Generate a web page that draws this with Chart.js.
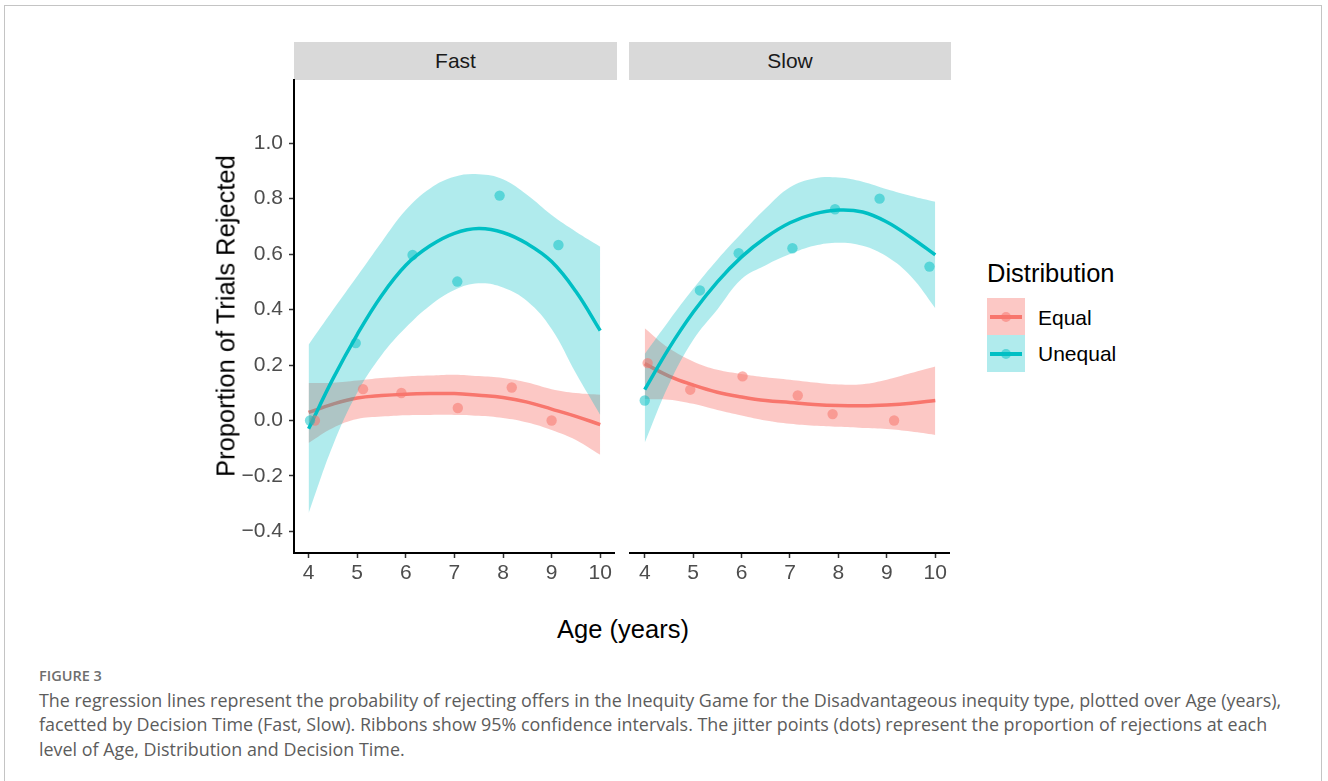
<!DOCTYPE html>
<html>
<head>
<meta charset="utf-8">
<script src="https://cdn.jsdelivr.net/npm/chart.js@4.4.1/dist/chart.umd.min.js"></script>
<style>
  html, body { margin:0; padding:0; background:#fff; }
  body { width:1328px; height:781px; position:relative; overflow:hidden; font-family:"Liberation Sans", Arial, sans-serif; }
  .frame { position:absolute; left:4px; top:5px; width:1318px; height:800px; border:1px solid #c4c4c4; box-sizing:border-box; }
  canvas { position:absolute; }
  .strip { position:absolute; top:42px; height:38px; background:#d9d9d9; color:#1a1a1a; font-size:21px; display:flex; align-items:center; justify-content:center; }
  .ytitle { position:absolute; left:226px; top:316px; transform:translate(-50%,-50%) rotate(-90deg); font-size:25.5px; color:#000; white-space:nowrap; }
  .xtitle { position:absolute; left:623px; top:629px; transform:translate(-50%,-50%); font-size:25.5px; color:#000; white-space:nowrap; }
  .legtitle { position:absolute; left:987px; top:273px; transform:translateY(-50%); font-size:25.5px; color:#000; white-space:nowrap; }
  .key { position:absolute; left:987px; width:38px; height:37px; }
  .key .ln { position:absolute; left:3px; right:3px; top:17px; height:3.5px; }
  .key .dt { position:absolute; left:14px; top:13.5px; width:10px; height:10px; border-radius:50%; }
  .leglab { position:absolute; left:1038px; transform:translateY(-50%); font-size:21px; color:#000; white-space:nowrap; }
  .figlab { position:absolute; left:39px; top:675px; transform:translateY(-50%); font-family:"Open Sans", sans-serif; font-weight:600; font-size:14.5px; color:#6e6e6e; }
  .cap { position:absolute; left:39px; top:688px; font-family:"Open Sans", sans-serif; font-size:17.9px; line-height:24.3px; color:#5c5c5c; white-space:nowrap; }
</style>
</head>
<body>
<div class="frame"></div>
<div class="strip" style="left:294px;width:323px;">Fast</div>
<div class="strip" style="left:629px;width:322px;">Slow</div>
<canvas id="c1" width="430" height="540" style="left:190px;top:70px;"></canvas>
<canvas id="c2" width="330" height="540" style="left:625px;top:70px;"></canvas>
<div class="ytitle">Proportion of Trials Rejected</div>
<div class="xtitle">Age (years)</div>
<div class="legtitle">Distribution</div>
<div class="key" id="k1" style="top:298px;"><div class="ln"></div><div class="dt"></div></div>
<div class="key" id="k2" style="top:335px;"><div class="ln"></div><div class="dt"></div></div>
<div class="leglab" style="top:318px;">Equal</div>
<div class="leglab" style="top:354px;">Unequal</div>
<div class="figlab">FIGURE 3</div>
<div class="cap">The regression lines represent the probability of rejecting offers in the Inequity Game for the Disadvantageous inequity type, plotted over Age (years),<br>facetted by Decision Time (Fast, Slow). Ribbons show 95% confidence intervals. The jitter points (dots) represent the proportion of rejections at each<br>level of Age, Distribution and Decision Time.</div>
<script>
// ---- data ----
const ageGrid = [4, 4.5, 5, 5.5, 6, 6.5, 7, 7.5, 8, 8.5, 9, 9.5, 10];
const xTickValues = [4, 5, 6, 7, 8, 9, 10];
const xTickLabels = ['4', '5', '6', '7', '8', '9', '10'];
const yTickValues = [-0.4, -0.2, 0, 0.2, 0.4, 0.6, 0.8, 1.0];
const yTickLabels = ['\u22120.4', '\u22120.2', '0.0', '0.2', '0.4', '0.6', '0.8', '1.0'];
const seriesNames = ['Equal', 'Unequal'];

// Fast panel — fitted curves and 95% CI
const fastEqualFit   = [0.029, 0.059, 0.081, 0.090, 0.095, 0.097, 0.097, 0.091, 0.083, 0.066, 0.041, 0.015, -0.015];
const fastEqualUpper = [0.135, 0.136, 0.144, 0.153, 0.159, 0.162, 0.165, 0.160, 0.153, 0.137, 0.113, 0.099, 0.093];
const fastEqualLower = [-0.081, -0.027, 0.005, 0.014, 0.019, 0.020, 0.020, 0.017, 0.009, -0.007, -0.034, -0.070, -0.124];
const fastUnequalFit   = [-0.030, 0.150, 0.310, 0.450, 0.560, 0.630, 0.675, 0.692, 0.678, 0.637, 0.573, 0.465, 0.324];
const fastUnequalUpper = [0.273, 0.398, 0.520, 0.643, 0.759, 0.837, 0.879, 0.888, 0.870, 0.813, 0.741, 0.681, 0.627];
const fastUnequalLower = [-0.335, -0.090, 0.100, 0.235, 0.335, 0.415, 0.471, 0.495, 0.480, 0.430, 0.330, 0.170, 0.020];
// Fast panel — jittered observed proportions
const fastEqualAge  = [4.13, 5.12, 5.91, 7.07, 8.18, 9.00];
const fastEqualProp = [0.000, 0.113, 0.099, 0.045, 0.119, 0.000];
const fastUnequalAge  = [4.03, 4.97, 6.14, 7.06, 7.93, 9.14];
const fastUnequalProp = [0.000, 0.279, 0.597, 0.501, 0.811, 0.633];

// Slow panel — fitted curves and 95% CI
const slowEqualFit   = [0.205, 0.160, 0.128, 0.102, 0.085, 0.072, 0.065, 0.058, 0.054, 0.053, 0.056, 0.062, 0.072];
const slowEqualUpper = [0.333, 0.261, 0.213, 0.183, 0.168, 0.156, 0.147, 0.137, 0.130, 0.131, 0.147, 0.171, 0.195];
const slowEqualLower = [0.077, 0.075, 0.060, 0.038, 0.018, 0.000, -0.012, -0.019, -0.023, -0.027, -0.031, -0.040, -0.052];
const slowUnequalFit   = [0.111, 0.260, 0.390, 0.500, 0.590, 0.660, 0.713, 0.745, 0.759, 0.752, 0.716, 0.660, 0.597];
const slowUnequalUpper = [0.240, 0.360, 0.475, 0.580, 0.675, 0.765, 0.841, 0.873, 0.876, 0.861, 0.834, 0.810, 0.789];
const slowUnequalLower = [-0.080, 0.130, 0.290, 0.400, 0.510, 0.560, 0.600, 0.630, 0.641, 0.630, 0.591, 0.519, 0.405];
// Slow panel — jittered observed proportions
const slowEqualAge  = [4.06, 4.94, 6.02, 7.16, 7.88, 9.15];
const slowEqualProp = [0.207, 0.111, 0.159, 0.090, 0.023, 0.000];
const slowUnequalAge  = [4.00, 5.14, 5.94, 7.05, 7.93, 8.85, 9.88];
const slowUnequalProp = [0.072, 0.469, 0.603, 0.621, 0.762, 0.800, 0.555];

// ---- styling ----
const colEqual = '#F8766D', colUnequal = '#00BFC4';
const ribbonEqual = 'rgba(248,118,109,0.40)', ribbonUnequal = 'rgba(0,191,196,0.31)';
const dotEqual = 'rgba(248,118,109,0.55)', dotUnequal = 'rgba(0,191,196,0.50)';

function xy(xs, ys) { return xs.map((x, i) => ({ x: x, y: ys[i] })); }

function panelDatasets(p) {
  // indices: 0 EqLower,1 EqUpper,2 EqFit,3 UnLower,4 UnUpper,5 UnFit,6 EqPts,7 UnPts
  const base = { type: 'line', pointRadius: 0, pointHoverRadius: 0, tension: 0.4 };
  return [
    Object.assign({}, base, { label: 'EqLower', data: xy(ageGrid, p.eqLo), borderWidth: 0, borderColor: 'rgba(0,0,0,0)', fill: false, order: 7 }),
    Object.assign({}, base, { label: 'EqUpper', data: xy(ageGrid, p.eqUp), borderWidth: 0, borderColor: 'rgba(0,0,0,0)', backgroundColor: ribbonEqual, fill: { target: 0 }, order: 6 }),
    Object.assign({}, base, { label: seriesNames[0], data: xy(ageGrid, p.eqFit), borderWidth: 3.5, borderColor: colEqual, fill: false, order: 5 }),
    Object.assign({}, base, { label: 'UnLower', data: xy(ageGrid, p.unLo), borderWidth: 0, borderColor: 'rgba(0,0,0,0)', fill: false, order: 4 }),
    Object.assign({}, base, { label: 'UnUpper', data: xy(ageGrid, p.unUp), borderWidth: 0, borderColor: 'rgba(0,0,0,0)', backgroundColor: ribbonUnequal, fill: { target: 3 }, order: 3 }),
    Object.assign({}, base, { label: seriesNames[1], data: xy(ageGrid, p.unFit), borderWidth: 3.5, borderColor: colUnequal, fill: false, order: 2 }),
    { type: 'scatter', label: 'EqPts', data: xy(p.eqAge, p.eqProp), pointRadius: 5.2, pointBorderWidth: 0, backgroundColor: dotEqual, borderColor: 'rgba(0,0,0,0)', order: 1 },
    { type: 'scatter', label: 'UnPts', data: xy(p.unAge, p.unProp), pointRadius: 5.2, pointBorderWidth: 0, backgroundColor: dotUnequal, borderColor: 'rgba(0,0,0,0)', order: 0 }
  ];
}

function zeroPad(s) { s.paddingTop = 0; s.paddingBottom = 0; s.paddingLeft = 0; s.paddingRight = 0; }

function makeOptions(showY, padding) {
  return {
    responsive: false,
    animation: false,
    devicePixelRatio: 1,
    layout: { padding: padding },
    plugins: { legend: { display: false }, tooltip: { enabled: false }, filler: { propagate: false } },
    scales: {
      x: {
        type: 'linear', min: 3.7, max: 10.3,
        afterFit: s => { s.height = 57; zeroPad(s); },
        afterBuildTicks: a => { a.ticks = xTickValues.map(v => ({ value: v })); },
        ticks: { callback: (v) => xTickLabels[xTickValues.indexOf(v)], color: '#4d4d4d', font: { family: 'Liberation Sans', size: 21 }, padding: 3, maxRotation: 0, autoSkip: false },
        grid: { display: true, drawOnChartArea: false, drawTicks: true, tickLength: 5, tickColor: '#333', tickWidth: 1.5 },
        border: { display: true, color: '#000', width: 2 }
      },
      y: {
        type: 'linear', min: -0.478, max: 1.228, display: showY,
        afterFit: s => { s.width = showY ? 104 : 0; zeroPad(s); },
        afterBuildTicks: a => { a.ticks = yTickValues.map(v => ({ value: v })); },
        ticks: { callback: (v) => { const i = yTickValues.findIndex(t => Math.abs(t - v) < 1e-9); return i >= 0 ? yTickLabels[i] : ''; }, color: '#4d4d4d', font: { family: 'Liberation Sans', size: 21 }, padding: 6, autoSkip: false },
        grid: { display: true, drawOnChartArea: false, drawTicks: true, tickLength: 5, tickColor: '#333', tickWidth: 1.5 },
        border: { display: true, color: '#000', width: 2 }
      }
    }
  };
}

new Chart(document.getElementById('c1'), {
  type: 'line',
  data: { datasets: panelDatasets({
    eqLo: fastEqualLower, eqUp: fastEqualUpper, eqFit: fastEqualFit,
    unLo: fastUnequalLower, unUp: fastUnequalUpper, unFit: fastUnequalFit,
    eqAge: fastEqualAge, eqProp: fastEqualProp, unAge: fastUnequalAge, unProp: fastUnequalProp }) },
  options: makeOptions(true, { top: 10, right: 3, left: 0, bottom: 0 })
});

new Chart(document.getElementById('c2'), {
  type: 'line',
  data: { datasets: panelDatasets({
    eqLo: slowEqualLower, eqUp: slowEqualUpper, eqFit: slowEqualFit,
    unLo: slowUnequalLower, unUp: slowUnequalUpper, unFit: slowUnequalFit,
    eqAge: slowEqualAge, eqProp: slowEqualProp, unAge: slowUnequalAge, unProp: slowUnequalProp }) },
  options: makeOptions(false, { top: 10, right: 4, left: 4, bottom: 0 })
});

// legend keys use the same series colours
document.querySelector('#k1').style.background = ribbonEqual;
document.querySelector('#k1 .ln').style.background = colEqual;
document.querySelector('#k1 .dt').style.background = dotEqual;
document.querySelector('#k2').style.background = ribbonUnequal;
document.querySelector('#k2 .ln').style.background = colUnequal;
document.querySelector('#k2 .dt').style.background = dotUnequal;
</script>
</body>
</html>
